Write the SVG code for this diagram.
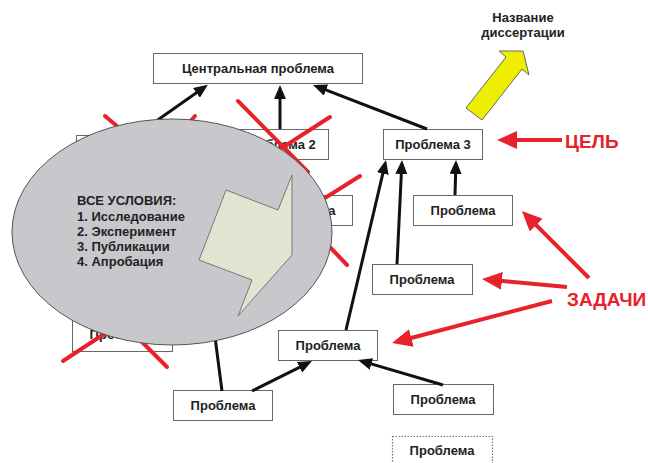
<svg xmlns="http://www.w3.org/2000/svg" width="648" height="463" viewBox="0 0 648 463">
<defs>
<marker id="ah" markerUnits="userSpaceOnUse" markerWidth="14" markerHeight="12" viewBox="0 0 14 12" refX="10" refY="6" orient="auto"><path d="M0,0 L14,6 L0,12 z" fill="#111"/></marker>
<marker id="rh" markerUnits="userSpaceOnUse" markerWidth="20" markerHeight="18" viewBox="0 0 20 18" refX="14" refY="9" orient="auto"><path d="M0,0 L20,9 L0,18 z" fill="#e8212b"/></marker>
</defs>
<style>
.box{fill:#fff;stroke:#666;stroke-width:1}
.dbox{fill:#fff;stroke:#777;stroke-width:1.2;stroke-dasharray:1.5 1.5}
.t{font-family:"Liberation Sans",Arial,sans-serif;font-weight:bold;font-size:13px;fill:#222;text-anchor:middle}
.c{stroke:#111;stroke-width:3;fill:none}
.ca{stroke:#111;stroke-width:3;fill:none;marker-end:url(#ah)}
.x{stroke:#e8212b;stroke-width:4;stroke-linecap:round;fill:none}
.ra{stroke:#e8212b;stroke-width:4;fill:none;marker-end:url(#rh)}
.rt{font-family:"Liberation Sans",Arial,sans-serif;font-weight:bold;font-size:19px;fill:#e8212b}
.lt{font-family:"Liberation Sans",Arial,sans-serif;font-weight:bold;font-size:13px;fill:#222}
</style>
<rect width="648" height="463" fill="#fff"/>

<g id="central"><rect class="box" x="153.5" y="53.5" width="209" height="30"/><text class="t" x="258" y="73">Центральная проблема</text></g>
<g id="p1"><rect class="box" x="76.5" y="135.5" width="100" height="30"/></g>
<g id="p2"><rect class="box" x="228.5" y="129.5" width="100" height="30"/><text class="t" x="278" y="149">Проблема 2</text></g>
<g id="p3"><rect class="box" x="383.5" y="129.5" width="99" height="30"/><text class="t" x="433" y="149">Проблема 3</text></g>
<g id="pa"><rect class="box" x="253.5" y="195.5" width="99" height="30"/><text class="t" x="303" y="215">Проблема</text></g>
<g id="pb"><rect class="box" x="72.5" y="317.5" width="100" height="34"/><text class="t" x="122" y="339">Проблема</text></g>
<g id="pr1"><rect class="box" x="413.5" y="195.5" width="99" height="30"/><text class="t" x="463" y="215">Проблема</text></g>
<g id="pr2"><rect class="box" x="372.5" y="264.5" width="100" height="30"/><text class="t" x="422" y="284">Проблема</text></g>
<g id="pm"><rect class="box" x="278.5" y="330.5" width="99" height="30"/><text class="t" x="328" y="350">Проблема</text></g>
<g id="pbl"><rect class="box" x="173.5" y="390.5" width="99" height="30"/><text class="t" x="223" y="410">Проблема</text></g>
<g id="pbr"><rect class="box" x="393.5" y="384.5" width="100" height="30"/><text class="t" x="443" y="404">Проблема</text></g>
<g id="pd"><rect class="dbox" x="392.5" y="436.5" width="100" height="34"/><text class="t" x="442" y="455">Проблема</text></g>

<g id="connectors">
<line class="ca" x1="135" y1="136" x2="204.6" y2="87.1"/>
<line class="ca" x1="280" y1="129" x2="280" y2="89"/>
<line class="ca" x1="427" y1="129" x2="316.7" y2="86.4"/>
<line class="ca" x1="346" y1="330" x2="385.1" y2="163.9"/>
<line class="ca" x1="397" y1="264" x2="401.8" y2="164"/>
<line class="ca" x1="455" y1="195" x2="455.9" y2="164"/>
<line class="ca" x1="252" y1="391" x2="308.4" y2="362.8"/>
<line class="ca" x1="443" y1="385" x2="361.8" y2="361.1"/>
<line class="c" x1="222" y1="391" x2="205" y2="260"/>
</g>

<g id="crosses">
<line class="x" x1="105" y1="116" x2="200" y2="196"/>
<line class="x" x1="195" y1="116" x2="115" y2="206"/>
<line class="x" x1="238" y1="101" x2="308" y2="172"/>
<line class="x" x1="330" y1="117" x2="240" y2="175"/>
<line class="x" x1="360" y1="176" x2="250" y2="245"/>
<line class="x" x1="347" y1="265" x2="270" y2="184"/>
<line class="x" x1="63" y1="361" x2="130" y2="317"/>
<line class="x" x1="167" y1="367" x2="118" y2="318"/>
</g>

<g id="conditions">
<ellipse cx="172" cy="232" rx="160" ry="113" fill="#c8c8cc" stroke="#555" stroke-width="1"/>
<polygon points="292,175 292,255 238,316 252,280 199,260 226,190 278,210" fill="#dfe5d0" stroke="#777" stroke-width="1"/>
<text class="lt" x="77" y="205">ВСЕ УСЛОВИЯ:</text>
<text class="lt" x="77" y="221">1. Исследование</text>
<text class="lt" x="77" y="236">2. Эксперимент</text>
<text class="lt" x="77" y="251">3. Публикации</text>
<text class="lt" x="77" y="266">4. Апробация</text>
</g>

<g id="title">
<polygon points="466,108 482,120 522,69 529,75 523,51 499,51 506,57" fill="#f0ee00" stroke="#666" stroke-width="1"/>
<text class="t" x="523" y="22">Название</text>
<text class="t" x="523" y="37">диссертации</text>
</g>

<g id="goal">
<line class="ra" x1="562" y1="140" x2="503" y2="140"/>
<text class="rt" x="565" y="148">ЦЕЛЬ</text>
</g>

<g id="tasks">
<line class="ra" x1="589" y1="278" x2="526.2" y2="215.2"/>
<line class="ra" x1="567" y1="287" x2="488" y2="279.6"/>
<line class="ra" x1="552" y1="301" x2="397.8" y2="341.5"/>
<text class="rt" x="567" y="306">ЗАДАЧИ</text>
</g>
</svg>
